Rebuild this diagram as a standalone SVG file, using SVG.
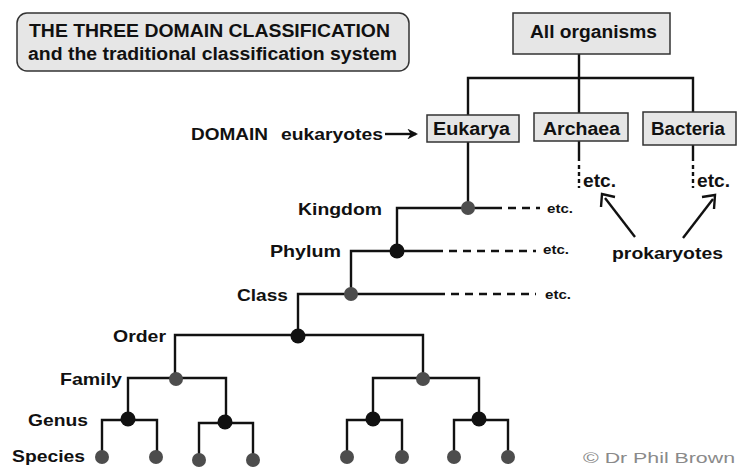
<svg xmlns="http://www.w3.org/2000/svg" width="737" height="467" viewBox="0 0 737 467">
  <defs>
    <style>
      text { font-family: "Liberation Sans", Arial, sans-serif; fill: #111; font-weight: bold; }
      .box { fill: #e6e6e6; stroke: #333; stroke-width: 1.5; }
      .ln { fill: none; stroke: #111; stroke-width: 2.4; }
      .dash { fill: none; stroke: #111; stroke-width: 2.4; stroke-dasharray: 8 6; }
      .vdash { fill: none; stroke: #111; stroke-width: 2.4; stroke-dasharray: 4 3; }
      .grey { fill: #4d4d4d; }
      .black { fill: #111; }
      .lbl { font-size: 17px; }
      .small { font-size: 13px; }
      .box-t { font-size: 17.5px; }
      .credit { font-size: 15.5px; font-weight: normal; fill: #8a8a8a; }
    </style>
    <marker id="head" viewBox="0 0 10 10" refX="8" refY="5" markerWidth="4.5" markerHeight="4.5" orient="auto">
      <path d="M0,0 L10,5 L0,10 L3,5 Z" fill="#111"/>
    </marker>
  </defs>

  <rect width="737" height="467" fill="#fff"/>

  <!-- heading panel -->
  <g id="title">
    <rect class="box" x="17" y="13" width="392" height="58" rx="10"/>
    <text class="box-t" x="29" y="37" textLength="361" lengthAdjust="spacingAndGlyphs">THE THREE DOMAIN CLASSIFICATION</text>
    <text class="box-t" x="28" y="60" textLength="369" lengthAdjust="spacingAndGlyphs">and the traditional classification system</text>
  </g>

  <!-- connectors -->
  <g id="connectors">
    <!-- root to domains -->
    <path class="ln" d="M579,54 V78 M468,115 V78 H693 V112 M579,78 V113"/>
    <!-- prokaryote domains trail off -->
    <path class="ln" d="M579,141 V161 M693,145 V161"/>
    <path class="vdash" d="M579,165 V188 M693,165 V188"/>
    <!-- eukaryote ranks -->
    <path class="ln" d="M468,142 V208 H502 M468,208 H397 V251 H443 M397,251 H351 V294 H445 M351,294 H298 V335"/>
    <path class="dash" d="M508,208 H540 M449,251 H536 M451,294 H536"/>
    <!-- order / family -->
    <path class="ln" d="M175,379 V335 H423 V379"/>
    <path class="ln" d="M128,420 V378 H226 V423 M373,420 V378 H479 V420"/>
    <!-- genus / species -->
    <path class="ln" d="M102,457 V420 H157 V457 M199,460 V423 H253 V460 M347,457 V420 H402 V457 M454,457 V420 H508 V457"/>
    <!-- arrows -->
    <path class="ln" d="M385,134 H416" marker-end="url(#head)" stroke-width="2.6"/>
    <path class="ln" d="M635,237 L605,198" stroke-width="3.2"/>
    <path class="ln" d="M601,207 L602,194 L615,197" stroke-width="3.6"/>
    <path class="ln" d="M683,238 L713,199" stroke-width="3.2"/>
    <path class="ln" d="M702,197 L715,195 L714,209" stroke-width="3.6"/>
  </g>

  <!-- domain boxes -->
  <g id="all-organisms">
    <rect class="box" x="513" y="13" width="157" height="41"/>
    <text class="box-t" x="530" y="38" textLength="127" lengthAdjust="spacingAndGlyphs">All organisms</text>
  </g>
  <g id="eukarya">
    <rect class="box" x="427" y="115" width="92" height="27"/>
    <text class="box-t" x="433" y="135" textLength="77" lengthAdjust="spacingAndGlyphs">Eukarya</text>
  </g>
  <g id="archaea">
    <rect class="box" x="534" y="113" width="94" height="28"/>
    <text class="box-t" x="543" y="135" textLength="77" lengthAdjust="spacingAndGlyphs">Archaea</text>
  </g>
  <g id="bacteria">
    <rect class="box" x="643" y="112" width="93" height="33"/>
    <text class="box-t" x="651" y="135" textLength="74" lengthAdjust="spacingAndGlyphs">Bacteria</text>
  </g>

  <!-- side labels -->
  <g id="domain-label">
    <text class="lbl" x="191" y="140" textLength="77" lengthAdjust="spacingAndGlyphs">DOMAIN</text>
    <text class="lbl" x="281" y="140" textLength="102" lengthAdjust="spacingAndGlyphs">eukaryotes</text>
  </g>
  <g id="prokaryotes">
    <text class="lbl" x="612" y="259" textLength="111" lengthAdjust="spacingAndGlyphs">prokaryotes</text>
    <text class="box-t" x="583" y="187" textLength="33" lengthAdjust="spacingAndGlyphs">etc.</text>
    <text class="box-t" x="697" y="187" textLength="33" lengthAdjust="spacingAndGlyphs">etc.</text>
  </g>

  <!-- rank labels -->
  <g id="rank-labels">
    <text class="lbl" x="298" y="215" textLength="84" lengthAdjust="spacingAndGlyphs">Kingdom</text>
    <text class="lbl" x="270" y="257" textLength="71" lengthAdjust="spacingAndGlyphs">Phylum</text>
    <text class="lbl" x="237" y="301" textLength="51" lengthAdjust="spacingAndGlyphs">Class</text>
    <text class="lbl" x="113" y="342" textLength="53" lengthAdjust="spacingAndGlyphs">Order</text>
    <text class="lbl" x="60" y="385" textLength="62" lengthAdjust="spacingAndGlyphs">Family</text>
    <text class="lbl" x="28" y="426" textLength="60" lengthAdjust="spacingAndGlyphs">Genus</text>
    <text class="lbl" x="12" y="462" textLength="73" lengthAdjust="spacingAndGlyphs">Species</text>
    <text class="small" x="547" y="213" textLength="26" lengthAdjust="spacingAndGlyphs">etc.</text>
    <text class="small" x="543" y="254" textLength="26" lengthAdjust="spacingAndGlyphs">etc.</text>
    <text class="small" x="545" y="299" textLength="26" lengthAdjust="spacingAndGlyphs">etc.</text>
  </g>

  <!-- rank nodes -->
  <g id="kingdom-node"><circle class="grey" cx="468" cy="208" r="7"/></g>
  <g id="phylum-node"><circle class="black" cx="397" cy="251" r="7.5"/></g>
  <g id="class-node"><circle class="grey" cx="351" cy="294" r="7"/></g>
  <g id="order-node"><circle class="black" cx="298" cy="336" r="7.5"/></g>
  <g id="family-nodes">
    <circle class="grey" cx="176" cy="379" r="7"/>
    <circle class="grey" cx="423" cy="379" r="7"/>
  </g>
  <g id="genus-nodes">
    <circle class="black" cx="128" cy="419" r="7.5"/>
    <circle class="black" cx="225" cy="422" r="7.5"/>
    <circle class="black" cx="373" cy="419" r="7.5"/>
    <circle class="black" cx="479" cy="419" r="7.5"/>
  </g>
  <g id="species-nodes">
    <circle class="grey" cx="102" cy="457" r="7"/>
    <circle class="grey" cx="156" cy="457" r="7"/>
    <circle class="grey" cx="199" cy="460" r="7"/>
    <circle class="grey" cx="253" cy="460" r="7"/>
    <circle class="grey" cx="347" cy="457" r="7"/>
    <circle class="grey" cx="402" cy="457" r="7"/>
    <circle class="grey" cx="454" cy="457" r="7"/>
    <circle class="grey" cx="508" cy="457" r="7"/>
  </g>

  <g id="credit">
    <text class="credit" x="583" y="463" textLength="152" lengthAdjust="spacingAndGlyphs">© Dr Phil Brown</text>
  </g>
</svg>
